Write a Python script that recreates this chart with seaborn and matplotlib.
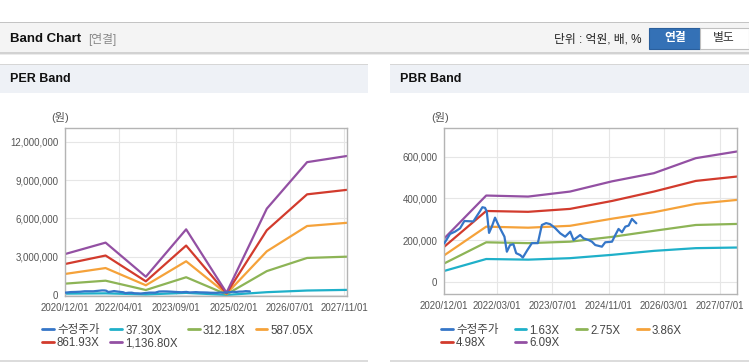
import numpy as np
import pandas as pd
import seaborn as sns
import matplotlib.pyplot as plt
import matplotlib.dates as mdates
from matplotlib.patches import Rectangle
from matplotlib.lines import Line2D

# adjusted share price (won), same series on both charts
price_dates = ["2020-12-01", "2021-01-20", "2021-03-04", "2021-04-17", "2021-05-25", "2021-08-11",
               "2021-10-09", "2021-10-29", "2021-11-21", "2021-12-06", "2021-12-26", "2022-01-19",
               "2022-02-16", "2022-03-17", "2022-04-16", "2022-05-09", "2022-05-30", "2022-06-27",
               "2022-07-26", "2022-08-19", "2022-09-23", "2022-10-16", "2022-11-25", "2023-01-03",
               "2023-02-24", "2023-03-31", "2023-05-07", "2023-06-11", "2023-07-25", "2023-09-07",
               "2023-10-20", "2023-12-03", "2024-01-01", "2024-02-28", "2024-03-28", "2024-05-11",
               "2024-06-09", "2024-07-08", "2024-09-04", "2024-10-03", "2024-12-01", "2024-12-30",
               "2025-01-27", "2025-02-26", "2025-03-27", "2025-04-25", "2025-05-24", "2025-06-16",
               "2025-07-01"]
price_won = [185000, 230000, 241000, 257000, 292000, 290000,
             340000, 358000, 355000, 337000, 235000, 265000,
             308000, 273000, 241000, 217000, 145000, 177000,
             181000, 138000, 129000, 117000, 153000, 186000,
             186000, 273000, 282000, 277000, 258000, 233000,
             217000, 241000, 201000, 225000, 209000, 201000,
             193000, 177000, 169000, 190000, 193000, 225000,
             254000, 238000, 265000, 270000, 302000, 289000,
             281000]

band_dates = ["2020-12-01", "2021-12-01", "2022-12-01", "2023-12-01",
              "2024-12-01", "2025-12-01", "2026-12-01", "2027-11-25"]

per_labels = ["37.30X", "312.18X", "587.05X", "861.93X", "1,136.80X"]
per_37 = [105000, 130000, 45000, 165000, 8000, 220000, 350000, 400000]
per_312 = [890000, 1120000, 390000, 1390000, 50000, 1870000, 2900000, 3000000]
per_587 = [1650000, 2110000, 760000, 2640000, 95000, 3420000, 5400000, 5650000]
per_861 = [2430000, 3090000, 1070000, 3870000, 130000, 5070000, 7880000, 8230000]
per_1136 = [3210000, 4100000, 1430000, 5140000, 180000, 6760000, 10400000, 10880000]

pbr_labels = ["1.63X", "2.75X", "3.86X", "4.98X", "6.09X"]
pbr_163 = [53000, 110000, 107000, 114000, 130000, 149000, 162000, 165000]
pbr_275 = [89000, 190000, 186000, 193000, 216000, 245000, 273000, 278000]
pbr_386 = [128000, 265000, 260000, 269000, 303000, 334000, 374000, 393000]
pbr_498 = [169000, 340000, 336000, 350000, 388000, 433000, 484000, 505000]
pbr_609 = [209000, 414000, 409000, 433000, 482000, 521000, 593000, 625000]

per_xticks = ["2020-12-01", "2022-04-01", "2023-09-01", "2025-02-01", "2026-07-01", "2027-11-01"]
pbr_xticks = ["2020-12-01", "2022-03-01", "2023-07-01", "2024-11-01", "2026-03-01", "2027-07-01"]
per_yticks = [0, 3000000, 6000000, 9000000, 12000000]
pbr_yticks = [0, 200000, 400000, 600000]

price_label = "수정주가"
colors = ["#3576c8", "#1fb0c9", "#8db456", "#f5a23a", "#d23b2d", "#9350a3"]

sns.set_style("white")
plt.rcParams["font.family"] = ["Liberation Sans", "Noto Sans CJK KR", "DejaVu Sans"]

W, H = 749, 364
fig = plt.figure(figsize=(W / 100, H / 100), dpi=100)
fig.patch.set_facecolor("white")


def px_rect(x0, y0, x1, y1, **kw):
    r = Rectangle((x0 / W, 1 - y1 / H), (x1 - x0) / W, (y1 - y0) / H,
                  transform=fig.transFigure, **kw)
    fig.add_artist(r)
    return r


def px_text(x, y, s, **kw):
    return fig.text(x / W, 1 - y / H, s, **kw)


# page header
px_rect(0, 22, W, 53, facecolor="#f4f4f4", edgecolor="none", zorder=-2)
px_rect(0, 22, W, 23, facecolor="#c4c4c4", edgecolor="none", zorder=-1)
px_rect(0, 52, W, 53.5, facecolor="#d2d2d2", edgecolor="none", zorder=-1)
px_rect(0, 53.5, W, 55, facecolor="#ebebeb", edgecolor="none", zorder=-1)
px_text(10, 39, "Band Chart", fontsize=9.5, fontweight="bold", color="#111", va="center")
px_text(88, 39, "[연결]", fontsize=8.5, color="#888", va="center")
px_text(642, 39, "단위 : 억원, 배, %", fontsize=8.5, color="#222", va="center", ha="right")
px_rect(649, 28, 700, 49, facecolor="#3471b6", edgecolor="#2b5f9c", lw=0.8, zorder=-1)
px_text(675, 38.5, "연결", fontsize=8.5, fontweight="bold", color="white", va="center", ha="center")
px_rect(700, 28, 749, 49, facecolor="white", edgecolor="#c0c0c0", lw=0.8, zorder=-1)
px_text(724, 38.5, "별도", fontsize=8.5, color="#333", va="center", ha="center")

# panels
for x0, x1, title in [(0, 368, "PER Band"), (390, W, "PBR Band")]:
    px_rect(x0, 64, x1, 93, facecolor="#eef1f6", edgecolor="none", zorder=-1)
    px_rect(x0, 63.5, x1, 64.5, facecolor="#d6d6d6", edgecolor="none", zorder=-1)
    px_rect(x0, 360, x1, 362, facecolor="#dcdcdc", edgecolor="none", zorder=-1)
    px_text(x0 + 10, 79, title, fontsize=9, fontweight="bold", color="#111", va="center")


def band_frame(labels, bands):
    frames = [pd.DataFrame({"date": pd.to_datetime(price_dates), "value": price_won,
                            "series": price_label})]
    for lab, vals in zip(labels, bands):
        frames.append(pd.DataFrame({"date": pd.to_datetime(band_dates), "value": vals,
                                    "series": lab}))
    return pd.concat(frames, ignore_index=True)


def draw(rect, labels, bands, xticks, yticks, ylim, leg_x, unit_x, colsp):
    ax = fig.add_axes(rect)
    df = band_frame(labels, bands)
    order = [price_label] + labels
    sns.lineplot(data=df, x="date", y="value", hue="series", hue_order=order,
                 palette=colors, estimator=None, linewidth=1.6, legend=False, ax=ax)
    ax.lines[0].set_zorder(5)
    ax.set_xlim(pd.Timestamp("2020-12-01"), pd.Timestamp("2027-11-25"))
    ax.set_ylim(*ylim)
    ax.set_xticks(pd.to_datetime(xticks))
    ax.xaxis.set_major_formatter(mdates.DateFormatter("%Y/%m/%d"))
    ax.set_yticks(yticks)
    ax.set_yticklabels([f"{v:,}" for v in yticks])
    ax.set_xlabel("")
    ax.set_ylabel("")
    ax.grid(True, color="#e6e6e6", linewidth=0.8)
    for s in ax.spines.values():
        s.set_color("#b4b4b4")
        s.set_linewidth(1)
    ax.tick_params(axis="both", labelsize=7, colors="#555555", length=3, width=0.8,
                   color="#b4b4b4", pad=2)
    handles = [Line2D([], [], color=c, lw=2) for c in colors]
    # row-major order for a 4-column, 2-row legend
    idx = [0, 4, 1, 5, 2, 3]
    ax.legend([handles[i] for i in idx], [order[i] for i in idx], ncol=4, loc="upper left",
              frameon=False, bbox_to_anchor=(leg_x / W, 1 - 324.5 / H),
              bbox_transform=fig.transFigure, fontsize=8.3, handlelength=1.0,
              handletextpad=0.3, columnspacing=colsp, labelspacing=0.08, borderpad=0,
              borderaxespad=0, labelcolor="#444")
    px_text(unit_x, 118, "(원)", fontsize=8, color="#555", va="center", ha="center")
    return ax


draw([65.3 / W, 1 - 295.7 / H, (346.7 - 65.3) / W, (295.7 - 128.3) / H],
     per_labels, [per_37, per_312, per_587, per_861, per_1136],
     per_xticks, per_yticks, (-55000, 13050000), 42, 60, 0.9)
draw([444.3 / W, 1 - 294.3 / H, (737 - 444.3) / W, (294.3 - 128.3) / H],
     pbr_labels, [pbr_163, pbr_275, pbr_386, pbr_498, pbr_609],
     pbr_xticks, pbr_yticks, (-59000, 736000), 441, 440, 1.4)

fig.savefig("out.png", dpi=100)
